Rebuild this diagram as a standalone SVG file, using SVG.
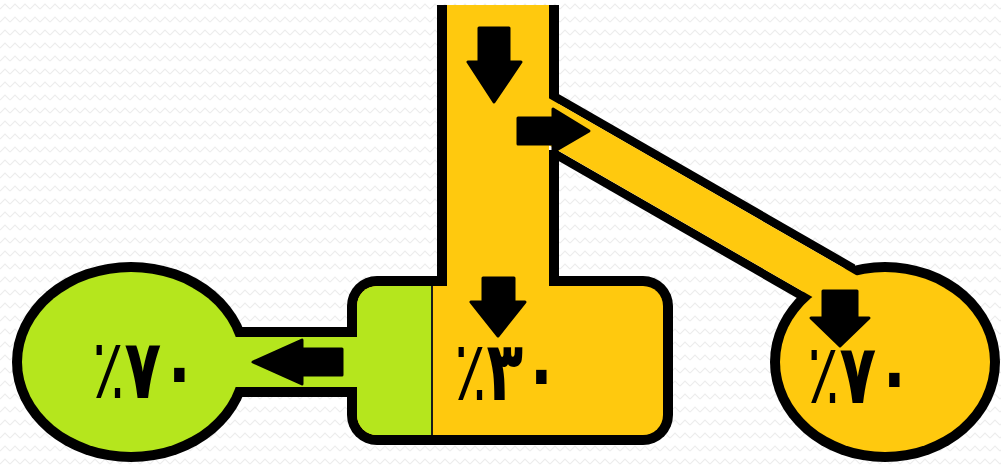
<svg xmlns="http://www.w3.org/2000/svg" width="1001" height="465" viewBox="0 0 1001 465">
<defs>
<pattern id="bg" width="10" height="13" patternUnits="userSpaceOnUse">
<polyline points="0,9 5,4 10,9" fill="none" stroke="#ededed" stroke-width="1.2"/>
</pattern>
<style>
.blk{fill:#000}
.yel{fill:#ffc90e}
.grn{fill:#b5e61d}
.arr{fill:#000;stroke:#000;stroke-width:3;stroke-linejoin:round}
.lbl{font-family:"DejaVu Sans","Noto Sans",sans-serif;font-weight:bold;font-size:60px;fill:#000;text-anchor:middle;direction:ltr;unicode-bidi:bidi-override}
.pc{font-weight:normal}
</style>
</defs>
<rect width="1001" height="465" fill="#fff"/>
<rect width="1001" height="465" fill="url(#bg)"/>

<g id="node-left">
<ellipse class="blk" cx="131" cy="362" rx="119" ry="100"/>
<ellipse class="grn" cx="131" cy="362" rx="109" ry="90"/>
<text class="lbl" transform="translate(145,398) scale(1,1.38)"><tspan class="pc">٪</tspan>٧٠</text>
</g>

<g id="node-center">
<rect class="blk" x="347" y="276" width="326" height="169" rx="30"/>
<rect class="yel" x="357" y="286" width="306" height="149" rx="20"/>
<path class="grn" d="M432,286 H377 A20,20 0 0 0 357,306 V415 A20,20 0 0 0 377,435 H432 Z"/>
<line x1="432" y1="286" x2="432" y2="435" stroke="#1a1a1a" stroke-width="2"/>
<text class="lbl" transform="translate(507,400) scale(1,1.38)"><tspan class="pc">٪</tspan>٣٠</text>
</g>

<g id="node-right">
<ellipse class="blk" cx="885" cy="362" rx="115" ry="100"/>
<ellipse class="yel" cx="885" cy="362" rx="105" ry="90"/>
<text class="lbl" transform="translate(860,403) scale(1,1.38)"><tspan class="pc">٪</tspan>٧٠</text>
</g>

<g id="connectors">
<!-- pipe borders -->
<rect class="blk" x="437" y="5" width="10" height="272"/>
<rect class="blk" x="549" y="5" width="10" height="99"/>
<rect class="blk" x="549" y="150" width="10" height="127"/>
<polygon class="blk" points="553,90.7 855,264.4 855,274.4 553,100.7"/>
<polygon class="blk" points="553,147.7 803,291.5 803,301.5 553,157.7"/>
<rect class="blk" x="236" y="327" width="114" height="10"/>
<rect class="blk" x="236" y="387" width="114" height="10"/>
<!-- pipe fills -->
<rect class="yel" x="447" y="5" width="102" height="288"/>
<polygon class="yel" points="545,96.1 862,278.4 862,325.4 545,143.1"/>
<rect class="grn" x="228" y="337" width="134" height="50"/>
<!-- arrows -->
<path class="arr" d="M479,28 H509 V62 H521 L494,102 L468,62 H479 Z"/>
<path class="arr" d="M518,118 H553 V109 L589,131 L553,152 V144 H518 Z"/>
<path class="arr" d="M483,278 H514 V302 H525 L498,336 L471,302 H483 Z"/>
<path class="arr" d="M342,349 V375 H302 V384 L253,362 L302,340 V349 Z"/>
<path class="arr" d="M823,291 H857 V318 H869 L840,346 L811,318 H823 Z"/>
</g>
</svg>
